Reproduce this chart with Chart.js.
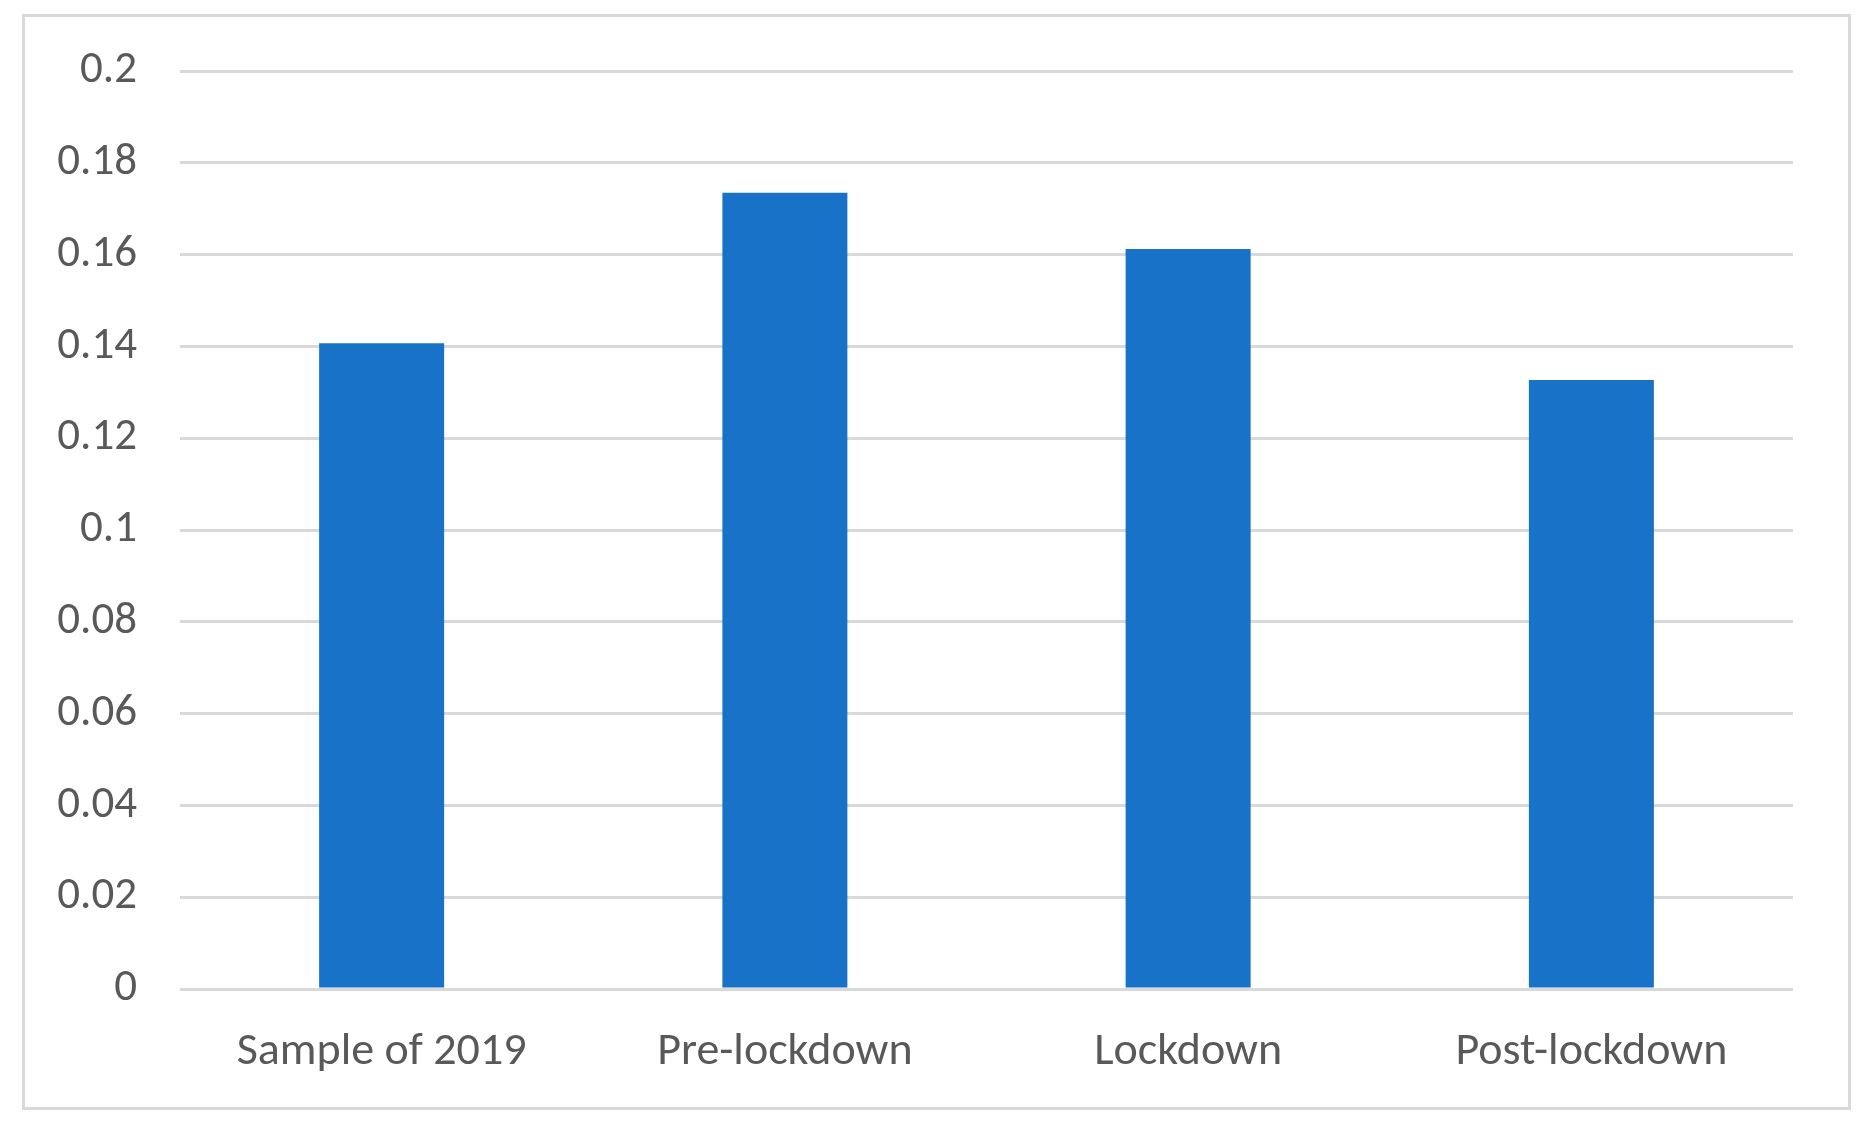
<!DOCTYPE html>
<html>
<head>
<meta charset="utf-8">
<script src="https://cdn.jsdelivr.net/npm/chart.js@4"></script>
<style>
    html, body { margin: 0; padding: 0; background: #fff; }
    #wrap { position: relative; width: 1874px; height: 1132px; }
    #frame {
        position: absolute; left: 22px; top: 14px; width: 1829px; height: 1096px;
        border: 3px solid #d9d9d9; box-sizing: border-box;
    }
    #chart { position: absolute; left: 0; top: 0; }
</style>
</head>
<body>
<div id="wrap">
    <div id="frame"></div>
    <canvas id="chart" width="1874" height="1132"></canvas>
</div>
<script>
// Chart data
const categories = ['Sample of 2019', 'Pre-lockdown', 'Lockdown', 'Post-lockdown'];
const values = [0.1407, 0.1735, 0.1612, 0.1327];
const yTickLabels = ['0', '0.02', '0.04', '0.06', '0.08', '0.1', '0.12', '0.14', '0.16', '0.18', '0.2'];

const textColor = '#595959';
const gridColor = '#d9d9d9';
const barColor = '#1772c8';
const fontFamily = 'Carlito, Lato, "Open Sans", sans-serif';

document.addEventListener('DOMContentLoaded', function() {
    const ctx = document.getElementById('chart').getContext('2d');
    new Chart(ctx, {
        type: 'bar',
        data: {
            labels: categories,
            datasets: [{
                data: values,
                backgroundColor: barColor,
                borderWidth: 0,
                categoryPercentage: 1,
                barPercentage: 0.31
            }]
        },
        options: {
            responsive: false,
            animation: false,
            layout: { padding: { left: 40, right: 81, top: 71, bottom: 0 } },
            plugins: {
                legend: { display: false },
                tooltip: { enabled: false }
            },
            scales: {
                x: {
                    grid: { display: false },
                    border: { display: false },
                    ticks: {
                        color: textColor,
                        font: { family: fontFamily, size: 46 },
                        padding: 28,
                        maxRotation: 0
                    },
                    afterFit: function(scale) { scale.height = 143; }
                },
                y: {
                    min: 0,
                    max: 0.2,
                    border: { display: false },
                    grid: { color: gridColor, lineWidth: 3, drawTicks: false },
                    ticks: {
                        stepSize: 0.02,
                        color: textColor,
                        font: { family: fontFamily, size: 45 },
                        padding: 43,
                        callback: function(value, index) { return yTickLabels[index]; }
                    },
                    afterFit: function(scale) { scale.width = 140; }
                }
            }
        }
    });
});
</script>
</body>
</html>
